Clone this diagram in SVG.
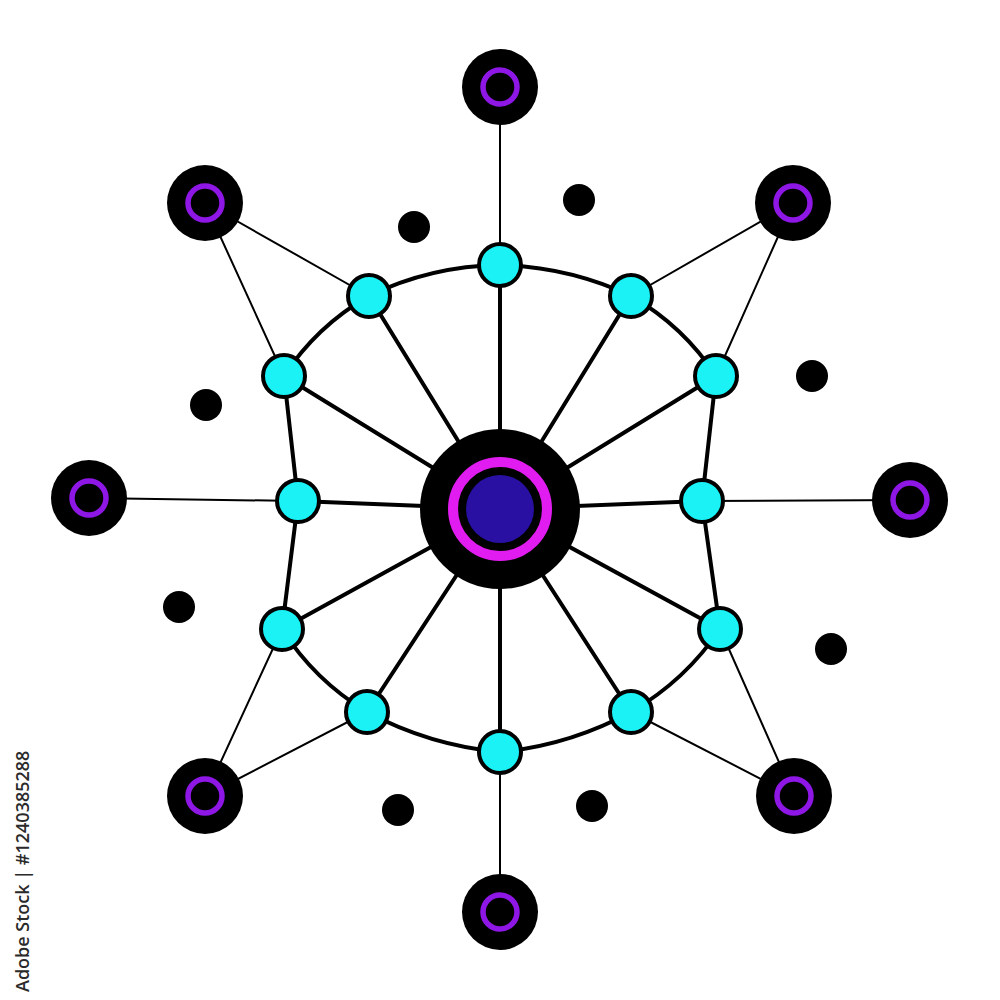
<svg xmlns="http://www.w3.org/2000/svg" width="1000" height="1000" viewBox="0 0 1000 1000">
<style>
.thick{stroke:#000;stroke-width:4;fill:none;stroke-linecap:round}
.thin{stroke:#000;stroke-width:2;fill:none;stroke-linecap:round}
.cyan{fill:#1af2f5;stroke:#000;stroke-width:4}
.outer{fill:#000}
.pring{fill:none;stroke:#8e17e6;stroke-width:5.5}
.dot{fill:#000}
.wm{font-family:"Open Sans","Liberation Sans",sans-serif;font-size:18px;font-weight:600;fill:#2a2a2a}
</style>
<rect width="1000" height="1000" fill="#fff"/>
<g id="connectors">
  <path class="thick" d="M500,265 Q569.4,267 631,296"/>
  <path class="thick" d="M631,296 Q683.4,326.1 716,376"/>
  <path class="thick" d="M716,376 L702,501"/>
  <path class="thick" d="M702,501 L720,629"/>
  <path class="thick" d="M720,629 Q685.8,680 631,712"/>
  <path class="thick" d="M631,712 Q569.4,745.4 500,752"/>
  <path class="thick" d="M500,752 Q429.5,745.4 367,712"/>
  <path class="thick" d="M367,712 Q314.2,680 282,629"/>
  <path class="thick" d="M282,629 L298,501"/>
  <path class="thick" d="M298,501 L284,376"/>
  <path class="thick" d="M284,376 Q316.6,326.1 369,296"/>
  <path class="thick" d="M369,296 Q430.3,266 500,265"/>
  <line class="thick" x1="500" y1="509" x2="500" y2="265"/>
  <line class="thick" x1="500" y1="509" x2="631" y2="296"/>
  <line class="thick" x1="500" y1="509" x2="716" y2="376"/>
  <line class="thick" x1="500" y1="509" x2="702" y2="501"/>
  <line class="thick" x1="500" y1="509" x2="720" y2="629"/>
  <line class="thick" x1="500" y1="509" x2="631" y2="712"/>
  <line class="thick" x1="500" y1="509" x2="500" y2="752"/>
  <line class="thick" x1="500" y1="509" x2="367" y2="712"/>
  <line class="thick" x1="500" y1="509" x2="282" y2="629"/>
  <line class="thick" x1="500" y1="509" x2="298" y2="501"/>
  <line class="thick" x1="500" y1="509" x2="284" y2="376"/>
  <line class="thick" x1="500" y1="509" x2="369" y2="296"/>
  <line class="thin" x1="500" y1="265" x2="500" y2="87"/>
  <line class="thin" x1="702" y1="501" x2="910" y2="500"/>
  <line class="thin" x1="500" y1="752" x2="500" y2="912"/>
  <line class="thin" x1="298" y1="501" x2="89" y2="498"/>
  <line class="thin" x1="205" y1="203" x2="369" y2="296"/>
  <line class="thin" x1="205" y1="203" x2="284" y2="376"/>
  <line class="thin" x1="793" y1="203" x2="631" y2="296"/>
  <line class="thin" x1="793" y1="203" x2="716" y2="376"/>
  <line class="thin" x1="205" y1="796" x2="282" y2="629"/>
  <line class="thin" x1="205" y1="796" x2="367" y2="712"/>
  <line class="thin" x1="794" y1="796" x2="720" y2="629"/>
  <line class="thin" x1="794" y1="796" x2="631" y2="712"/>
</g>
<g id="center">
  <circle cx="500" cy="509" r="80" fill="#000"/>
  <circle cx="500" cy="509" r="47" fill="none" stroke="#e11cf0" stroke-width="10"/>
  <circle cx="500" cy="509" r="34" fill="#2a0fa3"/>
</g>
<g id="c0"><circle class="cyan" cx="500" cy="265" r="21"/></g>
<g id="c1"><circle class="cyan" cx="631" cy="296" r="21"/></g>
<g id="c2"><circle class="cyan" cx="716" cy="376" r="21"/></g>
<g id="c3"><circle class="cyan" cx="702" cy="501" r="21"/></g>
<g id="c4"><circle class="cyan" cx="720" cy="629" r="21"/></g>
<g id="c5"><circle class="cyan" cx="631" cy="712" r="21"/></g>
<g id="c6"><circle class="cyan" cx="500" cy="752" r="21"/></g>
<g id="c7"><circle class="cyan" cx="367" cy="712" r="21"/></g>
<g id="c8"><circle class="cyan" cx="282" cy="629" r="21"/></g>
<g id="c9"><circle class="cyan" cx="298" cy="501" r="21"/></g>
<g id="c10"><circle class="cyan" cx="284" cy="376" r="21"/></g>
<g id="c11"><circle class="cyan" cx="369" cy="296" r="21"/></g>
<g id="o0"><circle class="outer" cx="500" cy="87" r="38"/><circle class="pring" cx="500" cy="87" r="17"/></g>
<g id="o1"><circle class="outer" cx="793" cy="203" r="38"/><circle class="pring" cx="793" cy="203" r="17"/></g>
<g id="o2"><circle class="outer" cx="910" cy="500" r="38"/><circle class="pring" cx="910" cy="500" r="17"/></g>
<g id="o3"><circle class="outer" cx="794" cy="796" r="38"/><circle class="pring" cx="794" cy="796" r="17"/></g>
<g id="o4"><circle class="outer" cx="500" cy="912" r="38"/><circle class="pring" cx="500" cy="912" r="17"/></g>
<g id="o5"><circle class="outer" cx="205" cy="796" r="38"/><circle class="pring" cx="205" cy="796" r="17"/></g>
<g id="o6"><circle class="outer" cx="89" cy="498" r="38"/><circle class="pring" cx="89" cy="498" r="17"/></g>
<g id="o7"><circle class="outer" cx="205" cy="203" r="38"/><circle class="pring" cx="205" cy="203" r="17"/></g>
<g id="dots">
  <circle class="dot" cx="414" cy="227" r="16"/>
  <circle class="dot" cx="579" cy="200" r="16"/>
  <circle class="dot" cx="206" cy="405" r="16"/>
  <circle class="dot" cx="812" cy="376" r="16"/>
  <circle class="dot" cx="179" cy="607" r="16"/>
  <circle class="dot" cx="831" cy="649" r="16"/>
  <circle class="dot" cx="398" cy="810" r="16"/>
  <circle class="dot" cx="592" cy="806" r="16"/>
</g>
<text class="wm" transform="translate(29,992) rotate(-90)">Adobe Stock | #1240385288</text>
</svg>
